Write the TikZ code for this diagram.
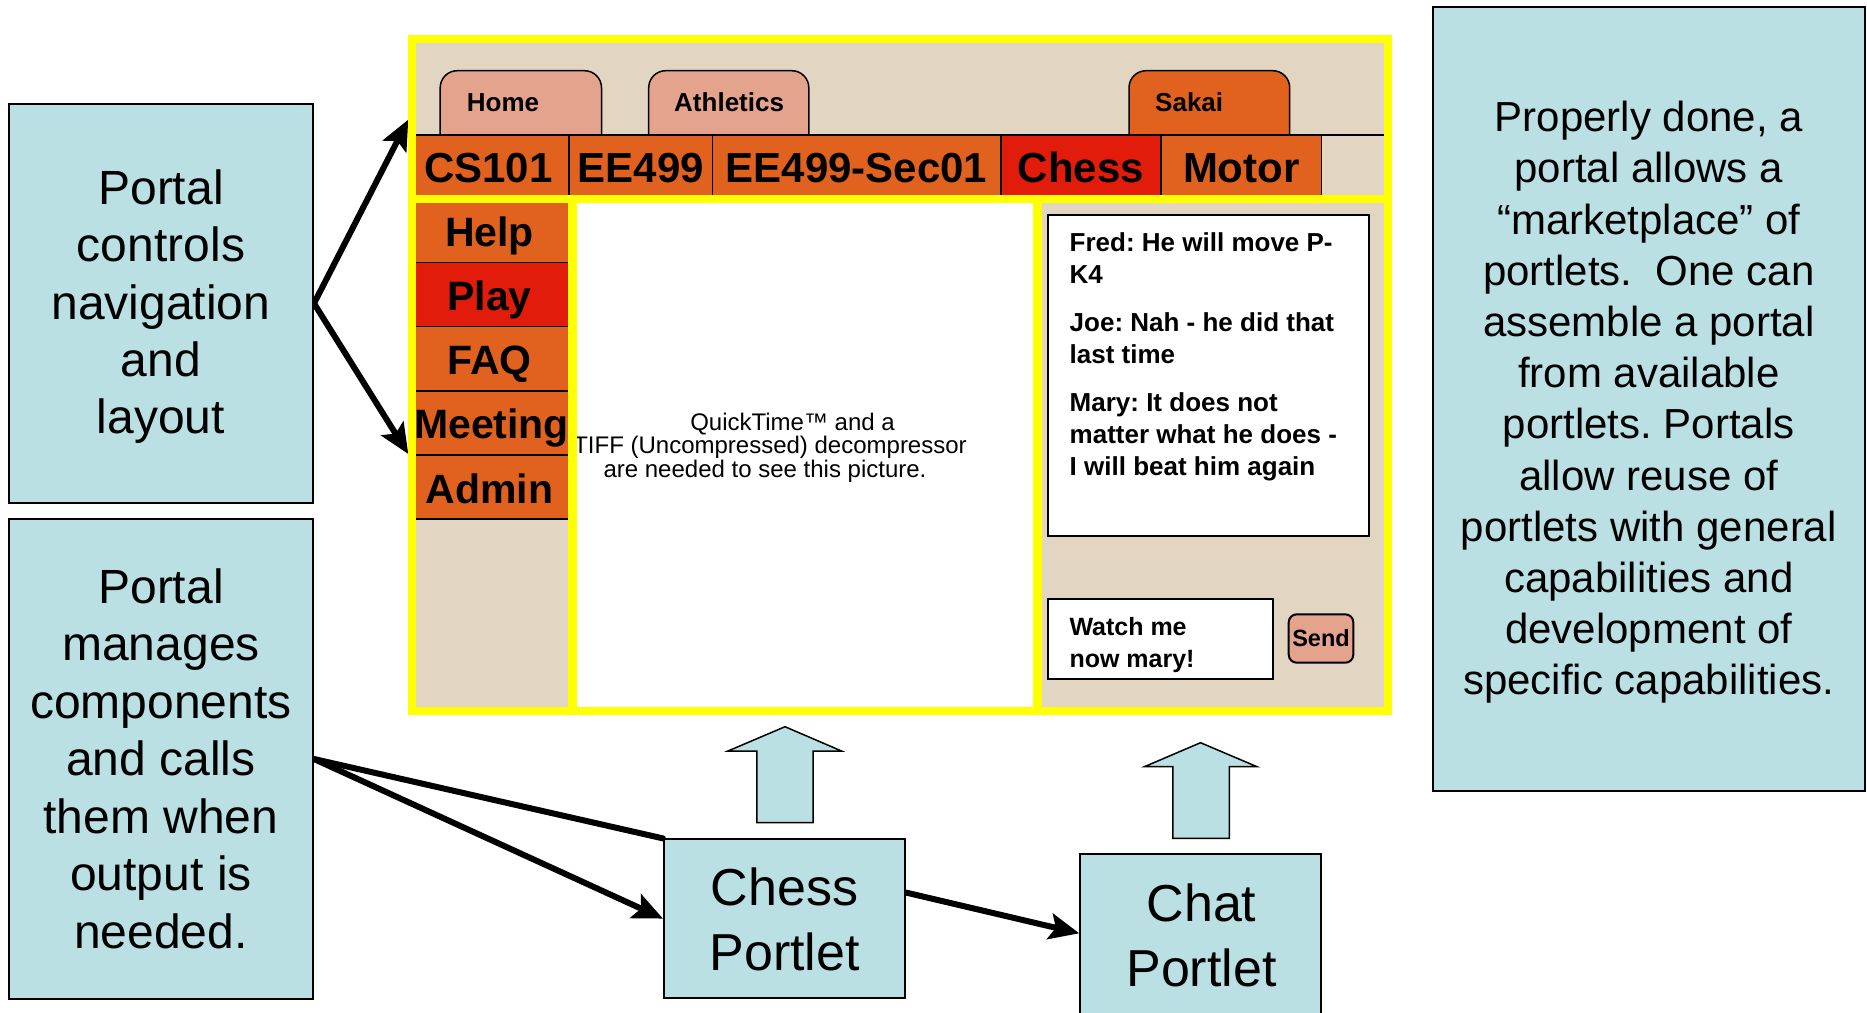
\documentclass[tikz,border=0pt]{standalone}
\usepackage{fontspec}
\setmainfont{Liberation Sans}
\usetikzlibrary{arrows.meta}
\definecolor{boxblue}{RGB}{186,224,228}
\definecolor{portbg}{RGB}{226,214,194}
\definecolor{navor}{RGB}{225,98,31}
\definecolor{navred}{RGB}{226,28,10}
\definecolor{tabsal}{RGB}{227,163,140}
\definecolor{frameyel}{RGB}{255,255,0}
\newcommand{\fs}[2]{\fontsize{#1pt}{#2pt}\selectfont}
\newcommand{\clines}[1]{\begin{tabular}[t]{@{}c@{}}#1\end{tabular}}
\newcommand{\llines}[1]{\begin{tabular}[t]{@{}l@{}}#1\end{tabular}}
\pgfdeclarelayer{bglayer}
\pgfsetlayers{bglayer,main}
\frenchspacing
\tikzset{
  expl/.style={draw=black, line width=2pt, fill=boxblue, inner sep=0pt},
  conn/.style={line width=6pt, black, line cap=round},
  arrowtip/.style={-{Stealth[length=30pt,width=26pt,inset=6pt]}},
  cellbox/.style={draw=black, line width=1.5pt},
  txt/.style={anchor=base, inner sep=0pt},
  tablabel/.style={anchor=base west, inner sep=0pt, font=\fs{26}{31}\bfseries},
  navlabel/.style={anchor=base, inner sep=0pt, font=\fs{42}{50}\bfseries},
  menulabel/.style={anchor=base, inner sep=0pt, font=\fs{41}{49}\bfseries},
  chattext/.style={anchor=base west, inner sep=0pt, font=\fs{26}{31.7}\bfseries},
  qtext/.style={anchor=base, inner sep=0pt, font=\fs{24}{24}},
  yline/.style={draw=frameyel, line width=8.4pt},
  blockarrow/.style={draw=black, line width=1.5pt, fill=boxblue, line join=miter},
}
\begin{document}
\begin{tikzpicture}[x=1pt,y=-1pt]
\useasboundingbox (0,0) rectangle (1867,1012);

% ---------- portal mock-up ----------
\fill[portbg] (412,39) rectangle (1388,711);

% tabs
\foreach \a/\b/\c in {440.2/601.5/tabsal, 648.7/808.8/tabsal, 1129/1289.7/navor}
  \draw[cellbox, fill=\c, rounded corners=17pt] (\a,135) -- (\a,70.7) -- (\b,70.7) -- (\b,135);
\node[tablabel] (tHome) at (466.7,111.7) {Home};
\node[tablabel] (tAth) at (674,111.7) {Athletics};
\node[tablabel] (tSakai) at (1155,111.7) {Sakai};

% navigation row
\foreach \a/\b/\c in {412/569/navor, 569/712.6/navor, 712.6/1001/navor, 1001/1161/navred, 1161/1321.7/navor}
  \draw[cellbox, fill=\c] (\a,135) rectangle (\b,199);
\draw[cellbox] (412,135) -- (1388,135);
\node[navlabel] (nCS) at (488.5,182.7) {CS101};
\node[navlabel] (nEE) at (640.8,182.7) {EE499};
\node[navlabel] (nSec) at (856.5,182.7) {EE499-Sec01};
\node[navlabel] (nChess) at (1081,182.7) {Chess};
\node[navlabel] (nMotor) at (1241.3,182.7) {Motor};

% centre picture area
\fill[white] (572.5,199) rectangle (1037.5,711);
\node[qtext] (qt1) at (792.5,430.7) {QuickTime™ and a};
\node[qtext] (qt2) at (770,453.3) {TIFF (Uncompressed) decompressor};
\node[qtext] (qt3) at (765,477.3) {are needed to see this picture.};

% left menu column
\foreach \t/\b/\c in {199/262.3/navor, 262.3/326.7/navred, 326.7/391/navor, 391/455/navor, 455/519/navor}
  \draw[cellbox, fill=\c] (412,\t) rectangle (572.5,\b);
\node[menulabel] (mHelp) at (489.5,246.7) {Help};
\node[menulabel] (mPlay) at (489.5,310.7) {Play};
\node[menulabel] (mFAQ) at (489.5,374.3) {FAQ};
\node[menulabel] (mMeet) at (491.5,438.3) {Meeting};
\node[menulabel] (mAdmin) at (489.5,503.3) {Admin};

% chat portlet area
\draw[line width=2pt, fill=white] (1048.3,215) rectangle (1369.3,535.8);
\node[chattext] (fred) at (1069.5,251.7) {\llines{Fred: He will move P-\\K4}};
\node[chattext] (joe) at (1069.5,331.7) {\llines{Joe: Nah - he did that\\last time}};
\node[chattext] (mary) at (1069.5,411.7) {\llines{Mary: It does not\\matter what he does -\\I will beat him again}};
\draw[line width=2pt, fill=white] (1048.3,599) rectangle (1273.3,679);
\node[anchor=base west, inner sep=0pt, font=\fs{25}{32.3}\bfseries] (input) at (1069.3,635) {\llines{Watch me\\now mary!}};
\node[draw=black, line width=2pt, fill=tabsal, rounded corners=8pt, inner sep=0pt,
      minimum width=64.6pt, minimum height=48.4pt, font=\fs{23.5}{28}\bfseries] (send) at (1321,638.5) {Send};

% yellow frame lines
\draw[yline] (412,39) rectangle (1388,711);
\draw[yline] (408,199) -- (1392,199);
\draw[yline] (572.5,199) -- (572.5,711);
\draw[yline] (1037.5,199) -- (1037.5,711);

% ---------- block arrows ----------
\draw[blockarrow] (785,726.7) -- (841.5,751) -- (813,751) -- (813,822.7) -- (756.9,822.7) -- (756.9,751) -- (728,751) -- cycle;
\draw[blockarrow] (1200.5,742.7) -- (1257,766.7) -- (1229.4,766.7) -- (1229.4,838.3) -- (1172.8,838.3) -- (1172.8,766.7) -- (1144.4,766.7) -- cycle;

% ---------- explanation boxes ----------
\node[expl, minimum width=304pt, minimum height=399.8pt] (navbox) at (161,303.4) {};
\node[txt, font=\fs{48}{57.4}] (navtxt) at (161,204.3) {\clines{Portal\\controls\\navigation\\and\\layout}};

\node[expl, minimum width=304pt, minimum height=480pt] (mgrbox) at (161,759) {};
\node[txt, font=\fs{48}{57.5}] (mgrtxt) at (161,603) {\clines{Portal\\manages\\components\\and calls\\them when\\output is\\needed.}};

\node[expl, minimum width=432.3pt, minimum height=784pt] (mktbox) at (1648.85,398.7) {};
\node[txt, font=\fs{42}{51.2}] (mkttxt) at (1648.8,131.7) {\clines{Properly done, a\\portal allows a\\“marketplace” of\\portlets.~ One can\\assemble a portal\\from available\\portlets. Portals\\allow reuse of\\portlets with general\\capabilities and\\development of\\specific capabilities.}};

\node[expl, minimum width=241.2pt, minimum height=158.4pt] (chess) at (784.6,918.6) {};
\node[txt, font=\fs{52}{65}] (chesstxt) at (784.6,905) {\clines{Chess\\Portlet}};

\node[expl, minimum width=240.2pt, minimum height=170pt] (chat) at (1200.4,939.3) {};
\node[txt, font=\fs{52}{65}] (chattxt) at (1201.5,921.7) {\clines{Chat\\Portlet}};

% ---------- connectors ----------
\coordinate (tabsL) at (408.3,119.6);
\coordinate (menuL) at (408.3,454);
\begin{pgfonlayer}{bglayer}
\draw[conn, arrowtip] (navbox.east) -- (tabsL);
\draw[conn, arrowtip] (navbox.east) -- (menuL);
\draw[conn] (mgrbox.east) -- (chess.north west);
\draw[conn, arrowtip] (mgrbox.east) -- (chess.west);
\draw[conn, arrowtip] ([yshift=26pt]chess.east) -- ([yshift=6pt]chat.west);
\end{pgfonlayer}
\end{tikzpicture}
\end{document}
